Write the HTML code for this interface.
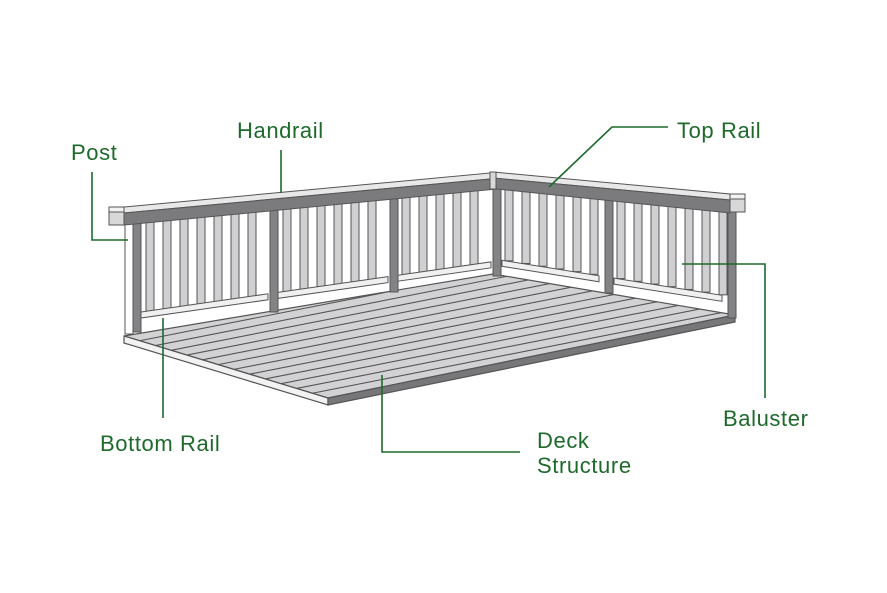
<!DOCTYPE html>
<html><head><meta charset="utf-8"><style>
html,body{margin:0;padding:0;background:#fff;}
svg{display:block}
text{font-family:"Liberation Sans",sans-serif;font-size:22px;letter-spacing:0.6px;fill:#1d6a2b}
</style></head><body>
<svg id="s" width="887" height="593" viewBox="0 0 887 593" xmlns="http://www.w3.org/2000/svg">
<defs><clipPath id="fc"><polygon points="124,336 493,274 735,315 328,398"/></clipPath></defs>
<g id="floor">
<polygon points="124,336 493,274 735,315 328,398" fill="#d2d2d4" stroke="#555" stroke-width="1.2"/>
<g id="flines" clip-path="url(#fc)" stroke="#555" stroke-width="1.1"></g>
<polygon points="124,336 328,398 328,405 124,343" fill="#f2f2f2" stroke="#555" stroke-width="1.2"/>
<polygon points="328,398 735,315 735,322 328,405" fill="#77777a" stroke="#555" stroke-width="1.2"/>
</g>
<g id="rail"></g>
<g fill="none" stroke="#1d6a2b" stroke-width="1.6">
<polyline points="92,172 92,240 128,240"/>
<polyline points="281,150 281,193"/>
<polyline points="668,127 612,127 549,187"/>
<polyline points="682,264 765,264 765,398"/>
<polyline points="163,318 163,418"/>
<polyline points="382,375 382,452 520,452"/>
</g>
<text x="71" y="160">Post</text>
<text x="237" y="138">Handrail</text>
<text x="677" y="138">Top Rail</text>
<text x="723" y="426">Baluster</text>
<text x="100" y="451">Bottom Rail</text>
<text x="537" y="448">Deck</text>
<text x="537" y="473">Structure</text>
</svg>
<script>
var NS="http://www.w3.org/2000/svg";
function el(p,t,a){var e=document.createElementNS(NS,t);for(var k in a)e.setAttribute(k,a[k]);p.appendChild(e);return e;}
var fl=document.getElementById('flines');
for(var i=1;i<13;i++){var t=i/13;var x=124+204*t,y=336+62*t;el(fl,'line',{x1:x,y1:y,x2:x+600,y2:y-600*0.197});}
var r=document.getElementById('rail');
var S='#555';
function lerp(x,x0,y0,x1,y1){return y0+(y1-y0)*(x-x0)/(x1-x0);}
function railTopL(x){return lerp(x,124,222,493,186);}
function brL(x){return lerp(x,141,312,490,262);}
function railTopR(x){return lerp(x,500,190,730,212);}
function brR(x){return lerp(x,500,260,720,295);}
function balusters(x0,x1,top,br,step){
 for(var x=x0+5;x+8<x1;x+=step){
  var yt=top(x),yb=br(x);
  el(r,'rect',{x:x,y:yt-3,width:8,height:yb-yt+3,fill:'#d0d0d2',stroke:S,'stroke-width':1});
 }
}
function bottomRail(x0,x1,br){
 el(r,'polygon',{points:x0+','+br(x0)+' '+x1+','+br(x1)+' '+x1+','+(br(x1)+6)+' '+x0+','+(br(x0)+6),fill:'#f0f0f0',stroke:S,'stroke-width':1});
}
var secL=[[141,270],[278,390],[397,493]];
secL.forEach(function(s){balusters(s[0],s[1],railTopL,brL,17);bottomRail(s[0],s[1]-2,brL);});
var secR=[[500,605],[612,728]];
secR.forEach(function(s){balusters(s[0],s[1],railTopR,brR,17);bottomRail(s[0]+2,s[1]-6,brR);});
function post(x,yt,yb,w){el(r,'rect',{x:x,y:yt,width:w||8,height:yb-yt,fill:'#838386',stroke:S,'stroke-width':1});}
post(133,222,332);post(270,210,312);post(390,199,292);post(493,182,276);post(605,198,293);post(728,212,318);
el(r,'rect',{x:125,y:224,width:8,height:110,fill:'#fff',stroke:S,'stroke-width':1});
// handrail left
el(r,'polygon',{points:'124,207 490,173 490,179 124,213',fill:'#e8e8e8',stroke:S,'stroke-width':1});
el(r,'polygon',{points:'124,213 490,179 497,189 124,225',fill:'#7b7b7e',stroke:S,'stroke-width':1});
el(r,'rect',{x:109,y:207,width:15,height:18,fill:'#d8d8d8',stroke:S,'stroke-width':1});
el(r,'rect',{x:109,y:207,width:15,height:5,fill:'#f2f2f2',stroke:S,'stroke-width':1});
// handrail right
el(r,'polygon',{points:'493,172 730,194 730,200 493,178',fill:'#e8e8e8',stroke:S,'stroke-width':1});
el(r,'polygon',{points:'493,178 730,200 730,213 497,189 493,189',fill:'#7b7b7e',stroke:S,'stroke-width':1});
el(r,'rect',{x:730,y:194,width:15,height:18,fill:'#d8d8d8',stroke:S,'stroke-width':1});
el(r,'rect',{x:730,y:194,width:15,height:5,fill:'#f2f2f2',stroke:S,'stroke-width':1});
el(r,'rect',{x:490,y:172,width:6,height:17,fill:'#d8d8d8',stroke:S,'stroke-width':1});
</script>
</body></html>
